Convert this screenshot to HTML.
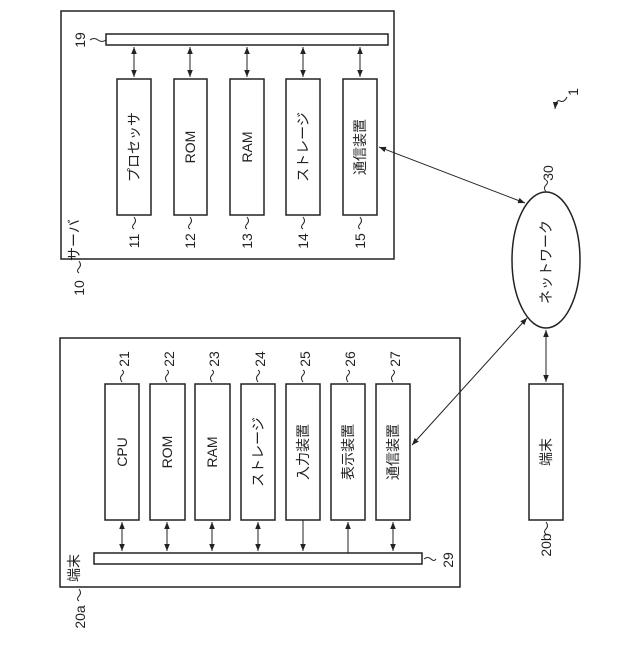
<!DOCTYPE html>
<html><head><meta charset="utf-8"><style>html,body{margin:0;padding:0;background:#fff}</style></head><body>
<svg width="640" height="640" xmlns="http://www.w3.org/2000/svg" font-family="'Liberation Sans','Noto Sans CJK JP',sans-serif" font-size="13" fill="#222">
<defs>
<marker id="a" viewBox="0 0 10 10" refX="10" refY="5" markerWidth="7" markerHeight="7" orient="auto-start-reverse"><path d="M0,1 L10,5 L0,9 z" fill="#222"/></marker>
</defs>
<g stroke="#222" stroke-width="1.5" fill="none">
<rect x="61" y="11" width="333" height="248"/>
<rect x="106" y="34" width="282" height="11"/>
<rect x="117" y="79" width="34" height="136"/>
<rect x="174" y="79" width="33" height="136"/>
<rect x="230" y="79" width="34" height="136"/>
<rect x="286" y="79" width="34" height="136"/>
<rect x="343" y="79" width="34" height="136"/>
<rect x="60" y="338" width="400" height="249"/>
<rect x="94" y="553" width="328" height="11"/>
<rect x="105" y="384" width="34" height="136"/>
<rect x="150" y="384" width="35" height="136"/>
<rect x="195" y="384" width="35" height="136"/>
<rect x="241" y="384" width="34" height="136"/>
<rect x="286" y="384" width="34" height="136"/>
<rect x="331" y="384" width="34" height="136"/>
<rect x="376" y="384" width="34" height="136"/>
<ellipse cx="546" cy="260" rx="34" ry="68"/>
<rect x="529" y="384" width="34" height="136"/>
</g>
<g stroke="#222" stroke-width="1" fill="none">
<line x1="134" y1="47" x2="134" y2="77" marker-start="url(#a)" marker-end="url(#a)"/>
<line x1="190" y1="47" x2="190" y2="77" marker-start="url(#a)" marker-end="url(#a)"/>
<line x1="247" y1="47" x2="247" y2="77" marker-start="url(#a)" marker-end="url(#a)"/>
<line x1="303" y1="47" x2="303" y2="77" marker-start="url(#a)" marker-end="url(#a)"/>
<line x1="360" y1="47" x2="360" y2="77" marker-start="url(#a)" marker-end="url(#a)"/>
<line x1="122" y1="522" x2="122" y2="551" marker-start="url(#a)" marker-end="url(#a)"/>
<line x1="167" y1="522" x2="167" y2="551" marker-start="url(#a)" marker-end="url(#a)"/>
<line x1="212" y1="522" x2="212" y2="551" marker-start="url(#a)" marker-end="url(#a)"/>
<line x1="258" y1="522" x2="258" y2="551" marker-start="url(#a)" marker-end="url(#a)"/>
<line x1="303" y1="520" x2="303" y2="551" marker-end="url(#a)"/>
<line x1="348" y1="553" x2="348" y2="522" marker-end="url(#a)"/>
<line x1="393" y1="522" x2="393" y2="551" marker-start="url(#a)" marker-end="url(#a)"/>
<line x1="379" y1="147" x2="525" y2="203" marker-start="url(#a)" marker-end="url(#a)"/>
<line x1="412" y1="445" x2="527" y2="318" marker-start="url(#a)" marker-end="url(#a)"/>
<line x1="546" y1="330" x2="546" y2="382" marker-start="url(#a)" marker-end="url(#a)"/>
<path d="M90,40 q4,-3 8,0 t8,0"/>
<path d="M134,217 q3,4 0,7 t0,5"/><path d="M190,217 q3,4 0,7 t0,5"/><path d="M247,217 q3,4 0,7 t0,5"/><path d="M303,217 q3,4 0,7 t0,5"/><path d="M360,217 q3,4 0,7 t0,5"/>
<path d="M79,261 q3,4 0,7 t0,5"/>
<path d="M122,382 q-3,-4 0,-7 t0,-5"/><path d="M167,382 q-3,-4 0,-7 t0,-5"/><path d="M212,382 q-3,-4 0,-7 t0,-5"/><path d="M258,382 q-3,-4 0,-7 t0,-5"/><path d="M303,382 q-3,-4 0,-7 t0,-5"/><path d="M348,382 q-3,-4 0,-7 t0,-5"/><path d="M393,382 q-3,-4 0,-7 t0,-5"/>
<path d="M424,559 q4,-3 7,0 t5,0"/>
<path d="M79,589 q3,4 0,7 t0,5"/>
<path d="M546,192 q-3,-4 0,-7 t0,-5"/>
<path d="M546,522 q3,4 0,7 t0,5"/>
<path d="M567,97 q-3,6 -7,4 t-5,8" marker-end="url(#a)"/>
</g>
<g text-anchor="middle" dominant-baseline="central" font-size="14">
<text transform="translate(134,147) rotate(-90)">プロセッサ</text>
<text transform="translate(190,147) rotate(-90)">ROM</text>
<text transform="translate(247,147) rotate(-90)">RAM</text>
<text transform="translate(303,147) rotate(-90)">ストレージ</text>
<text transform="translate(360,147) rotate(-90)">通信装置</text>
<text transform="translate(134,241) rotate(-90)">11</text>
<text transform="translate(190,241) rotate(-90)">12</text>
<text transform="translate(247,241) rotate(-90)">13</text>
<text transform="translate(303,241) rotate(-90)">14</text>
<text transform="translate(360,241) rotate(-90)">15</text>
<text transform="translate(80,40) rotate(-90)">19</text>
<text transform="translate(74,240) rotate(-90)">サーバ</text>
<text transform="translate(79,288) rotate(-90)">10</text>
<text transform="translate(122,452) rotate(-90)">CPU</text>
<text transform="translate(167,452) rotate(-90)">ROM</text>
<text transform="translate(212,452) rotate(-90)">RAM</text>
<text transform="translate(258,452) rotate(-90)">ストレージ</text>
<text transform="translate(303,452) rotate(-90)">入力装置</text>
<text transform="translate(348,452) rotate(-90)">表示装置</text>
<text transform="translate(393,452) rotate(-90)">通信装置</text>
<text transform="translate(124,359) rotate(-90)">21</text>
<text transform="translate(169,359) rotate(-90)">22</text>
<text transform="translate(214,359) rotate(-90)">23</text>
<text transform="translate(260,359) rotate(-90)">24</text>
<text transform="translate(305,359) rotate(-90)">25</text>
<text transform="translate(350,359) rotate(-90)">26</text>
<text transform="translate(395,359) rotate(-90)">27</text>
<text transform="translate(448,560) rotate(-90)">29</text>
<text transform="translate(74,568) rotate(-90)">端末</text>
<text transform="translate(80,617) rotate(-90)">20a</text>
<text transform="translate(546,262) rotate(-90)">ネットワーク</text>
<text transform="translate(548,173) rotate(-90)">30</text>
<text transform="translate(546,452) rotate(-90)">端末</text>
<text transform="translate(546,545) rotate(-90)">20b</text>
<text transform="translate(573,92) rotate(-90)">1</text>
</g>
</svg>
</body></html>
